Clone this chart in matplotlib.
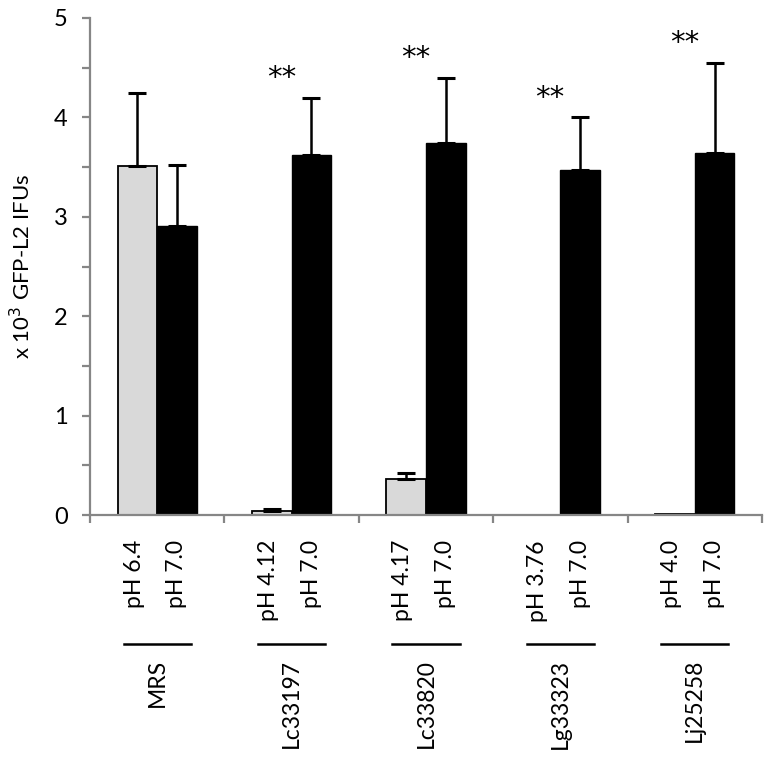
import matplotlib
matplotlib.use("Agg")
import matplotlib.pyplot as plt
import matplotlib.transforms as mtransforms
from matplotlib.lines import Line2D
import numpy as np

plt.rcParams['font.family'] = ['Lato', 'DejaVu Sans']

groups = ["MRS", "Lc33197", "Lc33820", "Lg33323", "Lj25258"]
acid_labels = ["pH 6.4", "pH 4.12", "pH 4.17", "pH 3.76", "pH 4.0"]
neutral_labels = ["pH 7.0", "pH 7.0", "pH 7.0", "pH 7.0", "pH 7.0"]
acid_values = [3.51, 0.04, 0.36, 0.0, 0.01]
acid_err = [0.74, 0.02, 0.06, 0.0, 0.0]
neutral_values = [2.91, 3.62, 3.74, 3.47, 3.64]
neutral_err = [0.61, 0.58, 0.66, 0.53, 0.91]
significance = ["", "**", "**", "**", "**"]

W, H = 770, 759
fig = plt.figure(figsize=(W / 100, H / 100), dpi=100)
ax = fig.add_axes([90 / W, 1 - 515 / H, (762 - 90) / W, (515 - 18) / H])

x = np.arange(len(groups))
bw = 0.294
gx = x - bw / 2
nx = x + bw / 2

ax.bar(gx, acid_values, width=bw, color="#d9d9d9", edgecolor="black", linewidth=1.3, zorder=2)
ax.bar(nx, neutral_values, width=bw, color="black", edgecolor="black", linewidth=1.0, zorder=2)

for xs, vals, errs in ((gx, acid_values, acid_err), (nx, neutral_values, neutral_err)):
    for xi, v, e in zip(xs, vals, errs):
        if e > 0:
            ax.errorbar([xi], [v], yerr=[[0], [e]], fmt="none", ecolor="black",
                        elinewidth=1.8, capsize=6.5, capthick=2.2, zorder=3)

for xi, v, e, s in zip(x, neutral_values, neutral_err, significance):
    if s:
        ax.text(xi - 0.076, v + e + 0.20, s, ha="center", va="center", fontsize=21,
                family="DejaVu Sans")

ax.set_xlim(-0.5, 4.5)
ax.set_ylim(0, 5)
ax.set_yticks(np.arange(0, 6, 1))
ax.set_yticks(np.arange(0, 5.01, 0.5), minor=True)
ax.set_xticks(np.arange(-0.5, 4.51, 1))
ax.set_xticklabels([])
gray = "#868686"
for sp in ("top", "right"):
    ax.spines[sp].set_visible(False)
for sp in ("left", "bottom"):
    ax.spines[sp].set_color(gray)
    ax.spines[sp].set_linewidth(1.6)
ax.tick_params(axis="y", which="both", direction="out", length=6, width=1.6, color=gray,
               labelsize=17, pad=10)
ax.tick_params(axis="x", which="both", direction="out", length=6, width=1.6, color=gray)

ax.set_ylabel("x 10$^{3}$ GFP-L2 IFUs", fontsize=16, labelpad=14)

trans = mtransforms.blended_transform_factory(ax.transData, fig.transFigure)
y_ph = 1 - 540 / H
y_sep = 1 - 644 / H
y_name = 1 - 659 / H
fs = 16.5
for xi, g, a, n in zip(x, groups, acid_labels, neutral_labels):
    ax.text(xi - bw / 2 - 0.025, y_ph, a, rotation=90, ha="center", va="top",
            fontsize=fs, transform=trans, clip_on=False)
    ax.text(xi + bw / 2, y_ph, n, rotation=90, ha="center", va="top",
            fontsize=fs, transform=trans, clip_on=False)
    ax.add_line(Line2D([xi - 0.25, xi + 0.25], [y_sep, y_sep], transform=trans,
                       color="black", linewidth=1.8, clip_on=False))
    ax.text(xi, y_name, g, rotation=90, ha="center", va="top", fontsize=fs,
            transform=trans, clip_on=False)

fig.savefig("out.png", dpi=100)
